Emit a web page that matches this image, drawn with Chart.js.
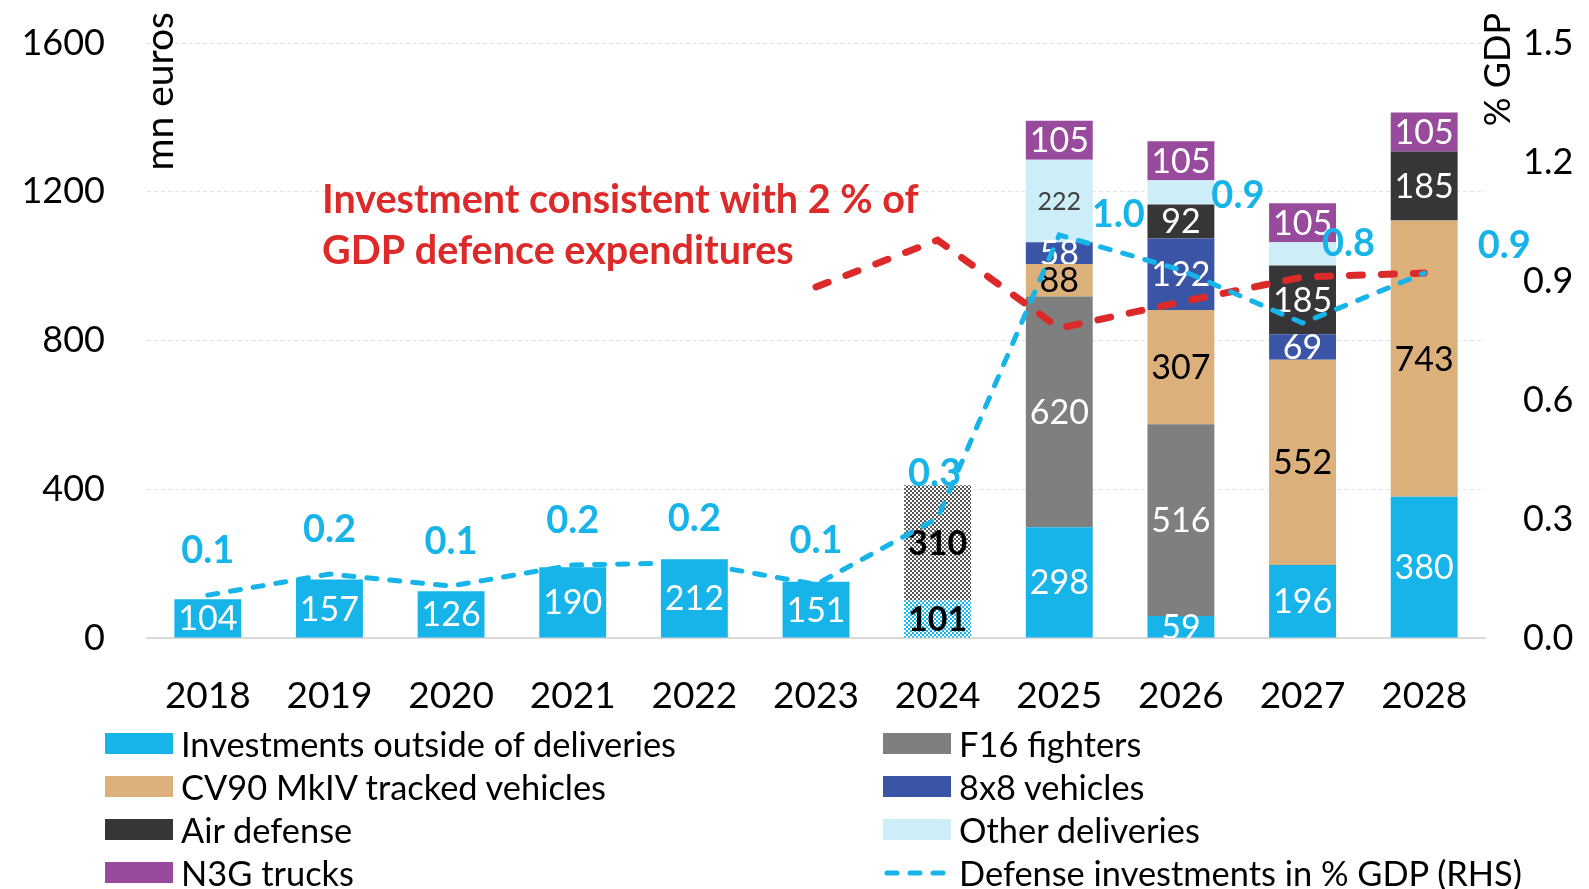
<!DOCTYPE html>
<html>
<head>
<meta charset="utf-8">
<script src="https://cdn.jsdelivr.net/npm/chart.js@4.4.1/dist/chart.umd.min.js"></script>
<style>
  html, body { margin: 0; padding: 0; background: #fff; }
  #wrap { position: relative; width: 1589px; height: 889px; overflow: hidden; }
  #legend {
    position: absolute; left: 105px; top: 722px;
    display: grid; grid-template-columns: 778px auto; grid-auto-rows: 43px;
    font-family: Lato, "Open Sans", sans-serif; font-size: 34.4px; color: #000;
  }
  .item { display: flex; align-items: center; white-space: nowrap; }
  .swatch { width: 68px; height: 21px; margin-right: 8px; flex: none; }
</style>
</head>
<body>
<div id="wrap">
  <canvas id="defenceChart" width="1589" height="889"></canvas>
  <div id="legend"></div>
</div>
<script>
// categories
const years = ['2018', '2019', '2020', '2021', '2022', '2023', '2024', '2025', '2026', '2027', '2028'];
const hatchedYear = '2024';

// stacked bars, mn euros
const outsideDeliveries = [104, 157, 126, 190, 212, 151, 101, 298, 59, 196, 380];
const f16Fighters      = [null, null, null, null, null, null, 310, 620, 516, null, null];
const cv90Tracked      = [null, null, null, null, null, null, null, 88, 307, 552, 743];
const eightByEight     = [null, null, null, null, null, null, null, 58, 192, 69, null];
const airDefense       = [null, null, null, null, null, null, null, null, 92, 185, 185];
const otherDeliveries  = [null, null, null, null, null, null, null, 222, 65, 62, null];
const n3gTrucks        = [null, null, null, null, null, null, null, 105, 105, 105, 105];

// lines, % GDP (right axis)
const gdpShare    = [0.108, 0.161, 0.131, 0.184, 0.19, 0.135, 0.302, 1.016, 0.928, 0.794, 0.92];
const twoPctLevel = [null, null, null, null, null, 0.885, 1.003, 0.781, 0.847, 0.91, 0.92];

// axis ticks
const leftTicks = [0, 400, 800, 1200, 1600];
const rightTicks = [0.0, 0.3, 0.6, 0.9, 1.2, 1.5];

const FONT = 'Lato, "Open Sans", sans-serif';
const BLUE = '#16B4E9';
const RED = '#DC2A2A';

const canvas = document.getElementById('defenceChart');
const ctx = canvas.getContext('2d');

function checker(color) {
  const c = document.createElement('canvas');
  c.width = 4; c.height = 4;
  const g = c.getContext('2d');
  g.fillStyle = '#fff';
  g.fillRect(0, 0, 4, 4);
  g.fillStyle = color;
  g.fillRect(0, 0, 2, 2);
  g.fillRect(2, 2, 2, 2);
  return ctx.createPattern(c, 'repeat');
}

function colorsFor(color, hatch) {
  return years.map(y => (y === hatchedYear ? hatch : color));
}

const bars = [
  { label: 'Investments outside of deliveries', data: outsideDeliveries, color: BLUE, hatch: checker(BLUE), text: '#fff' },
  { label: 'F16 fighters', data: f16Fighters, color: '#7F7F7F', hatch: checker('#555'), text: '#fff' },
  { label: 'CV90 MkIV tracked vehicles', data: cv90Tracked, color: '#DBB07A', text: '#000' },
  { label: '8x8 vehicles', data: eightByEight, color: '#3A55A6', text: '#fff' },
  { label: 'Air defense', data: airDefense, color: '#363638', text: '#fff' },
  { label: 'Other deliveries', data: otherDeliveries, color: '#CDEDF8', text: '#404040', small: true, hideIn: ['2026', '2027'] },
  { label: 'N3G trucks', data: n3gTrucks, color: '#984A9C', text: '#fff' }
];

const datasets = [
  {
    type: 'line', label: 'Defense investments in % GDP (RHS)', data: gdpShare, yAxisID: 'y1',
    borderColor: BLUE, borderWidth: 5, borderDash: [10, 13], borderCapStyle: 'round',
    pointRadius: 0, tension: 0, order: 0
  },
  {
    type: 'line', label: '2 % of GDP', data: twoPctLevel, yAxisID: 'y1',
    borderColor: RED, borderWidth: 7, borderDash: [13, 19], borderCapStyle: 'round',
    pointRadius: 0, tension: 0, order: 0
  }
].concat(bars.map(b => ({
  type: 'bar', label: b.label, data: b.data, yAxisID: 'y', stack: 'all', order: 1,
  backgroundColor: b.hatch ? colorsFor(b.color, b.hatch) : b.color,
  barPercentage: 0.55, categoryPercentage: 1,
  labelColor: b.text, smallLabel: b.small, hideIn: b.hideIn || []
})));

// offsets of the % GDP value labels from their points
const gdpLabelShift = [[0, -44], [0, -44], [0, -44], [0, -44], [0, -44], [0, -44], [-3, -44], [59, -20], [57, -74], [46, -79], [80, -27]];

const labelPlugin = {
  id: 'labelPlugin',
  afterDatasetDraw(chart, args) {
    const ds = chart.data.datasets[args.index];
    if (ds.type !== 'bar') return;
    const c = chart.ctx, area = chart.chartArea;
    c.save();
    c.beginPath();
    c.rect(area.left, area.top, area.right - area.left, area.bottom - area.top);
    c.clip();
    c.textAlign = 'center';
    c.textBaseline = 'middle';
    args.meta.data.forEach((bar, i) => {
      const v = ds.data[i];
      if (!v || ds.hideIn.includes(years[i])) return;
      const p = bar.getProps(['x', 'y', 'base'], true);
      if (years[i] === hatchedYear) {
        c.font = 'bold 34px ' + FONT;
        c.fillStyle = '#000';
      } else {
        c.font = (ds.smallLabel ? '25px ' : '34px ') + FONT;
        c.fillStyle = ds.labelColor;
      }
      c.fillText(String(v), p.x, (p.y + p.base) / 2 + 1);
    });
    c.restore();
  },
  afterDatasetsDraw(chart) {
    const c = chart.ctx;
    c.save();
    // % GDP labels
    const meta = chart.getDatasetMeta(0);
    c.font = 'bold 38px ' + FONT;
    c.fillStyle = BLUE;
    c.textAlign = 'center';
    c.textBaseline = 'middle';
    meta.data.forEach((pt, i) => {
      const s = gdpLabelShift[i];
      c.fillText(gdpShare[i].toFixed(1), pt.x + s[0], pt.y + s[1]);
    });
    // annotation
    c.fillStyle = RED;
    c.font = 'bold 39.5px ' + FONT;
    c.textAlign = 'left';
    c.fillText('Investment consistent with 2 % of', 322, 200);
    c.fillText('GDP defence expenditures', 322, 251);
    // axis titles, rotated, aligned to the top
    c.fillStyle = '#000';
    c.font = '39px ' + FONT;
    c.textAlign = 'right';
    c.translate(160, 12);
    c.rotate(-Math.PI / 2);
    c.fillText('mn euros', 0, 0);
    c.restore();
    c.save();
    c.fillStyle = '#000';
    c.font = '36px ' + FONT;
    c.textAlign = 'right';
    c.textBaseline = 'middle';
    c.translate(1498, 13);
    c.rotate(-Math.PI / 2);
    c.fillText('% GDP', 0, 0);
    c.restore();
  }
};

new Chart(ctx, {
  data: { labels: years, datasets: datasets },
  options: {
    responsive: false,
    animation: false,
    devicePixelRatio: 1,
    layout: { padding: { top: 43, left: 0, right: 0, bottom: 0 } },
    plugins: { legend: { display: false }, tooltip: { enabled: false } },
    scales: {
      x: {
        stacked: true,
        grid: { display: false, drawTicks: false },
        border: { color: '#D9D9D9', width: 2 },
        ticks: { color: '#000', font: { family: FONT, size: 37 }, padding: 36 },
        afterFit: s => { s.height = 251; }
      },
      y: {
        stacked: true, min: 0, max: 1600,
        afterBuildTicks: s => { s.ticks = leftTicks.map(v => ({ value: v })); },
        // tick marks are invisible; their length sets the gap to the labels
        grid: { color: '#E3E3E3', lineWidth: 1, drawTicks: true, tickLength: 42, tickColor: 'rgba(0,0,0,0)' },
        border: { display: false, dash: [4, 3] },
        ticks: { color: '#000', font: { family: FONT, size: 36 }, padding: 0, callback: v => String(v) },
        afterFit: s => { s.width = 147; }
      },
      y1: {
        position: 'right', min: 0, max: 1.5,
        afterBuildTicks: s => { s.ticks = rightTicks.map(v => ({ value: v })); },
        grid: { display: true, drawOnChartArea: false, drawTicks: true, tickLength: 38, tickColor: 'rgba(0,0,0,0)' },
        border: { display: false },
        ticks: { color: '#000', font: { family: FONT, size: 36 }, padding: 0, callback: v => v.toFixed(1) },
        afterFit: s => { s.width = 104; }
      }
    }
  },
  plugins: [labelPlugin]
});

// legend in two columns, same order as the source
const legendItems = [
  bars[0], bars[1], bars[2], bars[3], bars[4], bars[5], bars[6],
  { label: 'Defense investments in % GDP (RHS)', line: true }
];
const legend = document.getElementById('legend');
legendItems.forEach(it => {
  const row = document.createElement('div');
  row.className = 'item';
  let sw;
  if (it.line) {
    sw = '<svg class="swatch" width="68" height="21" style="height:21px"><line x1="4" y1="11" x2="66" y2="11" stroke="' + BLUE +
      '" stroke-width="5" stroke-linecap="round" stroke-dasharray="10 13"/></svg>';
  } else {
    sw = '<span class="swatch" style="background:' + it.color + '"></span>';
  }
  row.innerHTML = sw + '<span>' + it.label + '</span>';
  legend.appendChild(row);
});
</script>
</body>
</html>
